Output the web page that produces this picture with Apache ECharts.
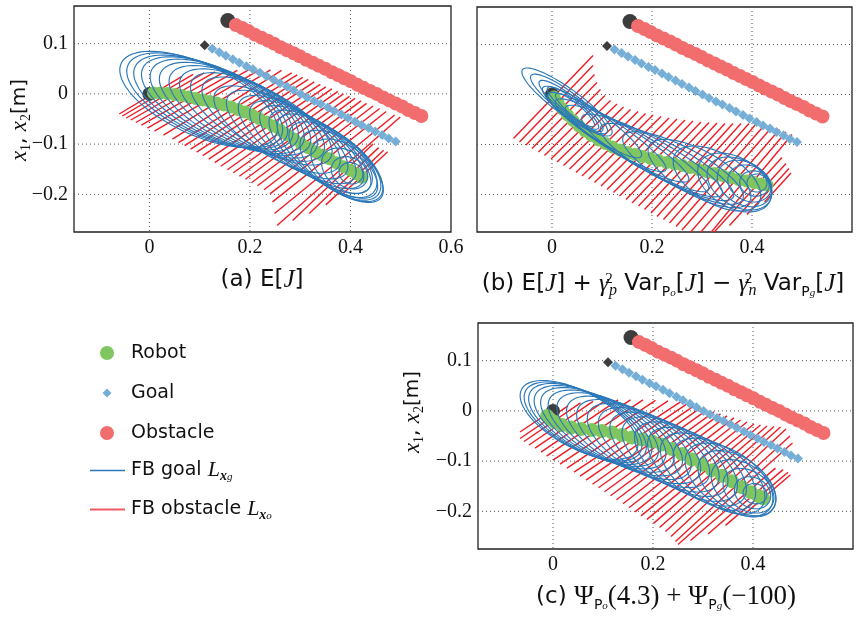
<!DOCTYPE html>
<html>
<head>
<meta charset="utf-8">
<script src="https://cdn.jsdelivr.net/npm/echarts@6/dist/echarts.min.js"></script>
<style>
  html, body { margin: 0; padding: 0; background: #fff; }
  #chart { width: 857px; height: 619px; }
</style>
</head>
<body>
<div id="chart"></div>
<script>
// tick labels
var xTicksA = [0, 0.2, 0.4, 0.6];
var xTicksBC = [0, 0.2, 0.4];
var yTicks = [-0.2, -0.1, 0, 0.1];

// goal / obstacle trajectories (same in the three panels)
var goalStart = [[0.110, 0.097]];
var goalPath = [[0.125,0.090],[0.139,0.083],[0.152,0.076],[0.166,0.069],[0.179,0.062],[0.193,0.055],[0.206,0.049],[0.220,0.042],[0.233,0.035],[0.247,0.028],[0.260,0.021],[0.274,0.014],[0.287,0.007],[0.301,0.000],[0.314,-0.007],[0.328,-0.014],[0.341,-0.020],[0.355,-0.027],[0.368,-0.034],[0.382,-0.041],[0.395,-0.048],[0.409,-0.055],[0.422,-0.062],[0.436,-0.068],[0.449,-0.075],[0.463,-0.082],[0.476,-0.089],[0.490,-0.095]];
var obstacleStart = [[0.156, 0.146]];
var obstaclePath = [[0.172,0.137],[0.185,0.131],[0.197,0.125],[0.210,0.118],[0.223,0.112],[0.236,0.106],[0.248,0.100],[0.261,0.093],[0.274,0.087],[0.287,0.081],[0.299,0.075],[0.312,0.068],[0.325,0.062],[0.337,0.056],[0.350,0.050],[0.363,0.043],[0.376,0.037],[0.388,0.031],[0.401,0.025],[0.414,0.018],[0.426,0.012],[0.439,0.006],[0.452,0.000],[0.465,-0.007],[0.477,-0.013],[0.490,-0.019],[0.503,-0.025],[0.515,-0.032],[0.528,-0.038],[0.541,-0.044]];
var robotStart = [[0, 0]];

// robot trajectories
var robotA = [[0.008,0.002],[0.022,0.002],[0.036,0.001],[0.050,-0.001],[0.064,-0.003],[0.078,-0.006],[0.092,-0.009],[0.106,-0.012],[0.120,-0.015],[0.134,-0.018],[0.148,-0.022],[0.162,-0.026],[0.176,-0.031],[0.190,-0.036],[0.204,-0.042],[0.218,-0.049],[0.232,-0.056],[0.246,-0.064],[0.260,-0.072],[0.274,-0.081],[0.288,-0.090],[0.302,-0.099],[0.316,-0.107],[0.330,-0.115],[0.344,-0.122],[0.358,-0.129],[0.372,-0.137],[0.386,-0.145],[0.400,-0.152],[0.412,-0.159],[0.423,-0.166]];
var robotB = [[0.004,-0.005],[0.012,-0.017],[0.021,-0.029],[0.031,-0.041],[0.042,-0.052],[0.054,-0.063],[0.066,-0.073],[0.079,-0.082],[0.093,-0.091],[0.107,-0.098],[0.121,-0.105],[0.136,-0.111],[0.151,-0.116],[0.166,-0.120],[0.181,-0.124],[0.197,-0.128],[0.213,-0.132],[0.229,-0.136],[0.245,-0.139],[0.261,-0.142],[0.277,-0.146],[0.293,-0.150],[0.309,-0.154],[0.325,-0.158],[0.341,-0.162],[0.357,-0.166],[0.373,-0.170],[0.389,-0.173],[0.404,-0.176],[0.418,-0.179],[0.430,-0.181]];
var robotC = [[-0.012,-0.010],[-0.006,-0.016],[0.004,-0.022],[0.018,-0.028],[0.036,-0.033],[0.056,-0.036],[0.078,-0.038],[0.098,-0.040],[0.118,-0.043],[0.138,-0.048],[0.158,-0.053],[0.178,-0.057],[0.198,-0.061],[0.218,-0.067],[0.238,-0.076],[0.258,-0.086],[0.278,-0.097],[0.298,-0.107],[0.318,-0.118],[0.338,-0.129],[0.358,-0.140],[0.378,-0.152],[0.396,-0.162],[0.412,-0.170],[0.420,-0.174]];

// FB goal ellipses: [cx, cy, semi-major, semi-minor, angle deg]
var goalEllA = [[0.098,-0.011,0.170,0.070,-25],[0.110,-0.013,0.168,0.069,-25],[0.122,-0.016,0.166,0.068,-25],[0.135,-0.019,0.164,0.067,-25.5],[0.149,-0.023,0.161,0.066,-26],[0.164,-0.028,0.158,0.064,-26.5],[0.180,-0.033,0.155,0.062,-27],[0.197,-0.039,0.152,0.060,-28],[0.215,-0.046,0.149,0.058,-29],[0.234,-0.054,0.146,0.056,-30],[0.254,-0.071,0.143,0.054,-31],[0.274,-0.081,0.140,0.053,-33],[0.294,-0.091,0.137,0.052,-34],[0.313,-0.101,0.134,0.051,-35],[0.330,-0.111,0.132,0.050,-36],[0.346,-0.120,0.130,0.050,-37],[0.360,-0.128,0.128,0.050,-38],[0.371,-0.135,0.112,0.050,-38],[0.380,-0.142,0.095,0.048,-38],[0.387,-0.148,0.076,0.044,-38],[0.393,-0.153,0.056,0.038,-36],[0.398,-0.157,0.038,0.030,-30],[0.401,-0.158,0.024,0.021,-20]];
var goalEllB = [[0.030,-0.015,0.110,0.026,-36],[0.034,-0.019,0.095,0.022,-37],[0.038,-0.023,0.080,0.018,-38],[0.042,-0.027,0.065,0.015,-39],[0.046,-0.031,0.050,0.012,-40],[0.080,-0.055,0.120,0.024,-35],[0.110,-0.075,0.140,0.026,-33],[0.140,-0.092,0.155,0.028,-31],[0.170,-0.108,0.165,0.030,-30],[0.200,-0.122,0.160,0.033,-29],[0.230,-0.135,0.150,0.036,-28],[0.262,-0.147,0.135,0.040,-28],[0.295,-0.158,0.115,0.045,-29],[0.330,-0.168,0.097,0.050,-30],[0.365,-0.176,0.080,0.050,-30],[0.375,-0.178,0.070,0.046,-30],[0.385,-0.178,0.058,0.042,-30],[0.395,-0.178,0.045,0.035,-25],[0.405,-0.178,0.030,0.025,-15],[0.410,-0.177,0.020,0.018,0]];
var goalEllC = [[0.052,-0.018,0.130,0.056,-28],[0.060,-0.021,0.130,0.056,-28],[0.069,-0.024,0.130,0.056,-28],[0.080,-0.028,0.130,0.056,-28],[0.093,-0.032,0.130,0.056,-28],[0.108,-0.037,0.130,0.056,-28],[0.125,-0.043,0.130,0.056,-28.5],[0.143,-0.050,0.129,0.056,-29],[0.162,-0.057,0.128,0.056,-29.5],[0.182,-0.065,0.127,0.056,-30],[0.202,-0.073,0.125,0.056,-30.5],[0.223,-0.082,0.123,0.056,-31],[0.244,-0.091,0.120,0.056,-32],[0.266,-0.101,0.117,0.056,-33],[0.288,-0.111,0.113,0.056,-34],[0.310,-0.121,0.109,0.056,-34.5],[0.332,-0.130,0.105,0.056,-35],[0.352,-0.137,0.100,0.055,-35],[0.368,-0.145,0.088,0.052,-35],[0.381,-0.153,0.072,0.046,-35],[0.391,-0.159,0.055,0.039,-33],[0.399,-0.163,0.038,0.030,-28],[0.404,-0.165,0.024,0.020,-15]];

// FB obstacle segments: [x0, y0, x1, y1]
var obsLinesA = [[-0.060,-0.040,0.065,0.035],[-0.054,-0.044,0.087,0.039],[-0.046,-0.048,0.109,0.042],[-0.037,-0.052,0.131,0.044],[-0.027,-0.057,0.153,0.046],[-0.016,-0.062,0.175,0.047],[-0.004,-0.068,0.197,0.048],[0.010,-0.074,0.219,0.048],[0.028,-0.082,0.241,0.048],[0.046,-0.090,0.263,0.047],
  [0.058,-0.097,0.283,0.042],[0.070,-0.103,0.294,0.038],[0.082,-0.110,0.305,0.033],[0.094,-0.116,0.316,0.029],[0.106,-0.123,0.328,0.024],[0.118,-0.130,0.340,0.019],[0.130,-0.137,0.351,0.014],[0.142,-0.144,0.363,0.010],[0.155,-0.151,0.375,0.005],[0.167,-0.157,0.386,0.000],[0.179,-0.164,0.398,-0.005],[0.191,-0.170,0.409,-0.009],[0.203,-0.177,0.421,-0.014],[0.215,-0.183,0.432,-0.019],[0.228,-0.191,0.445,-0.024],[0.240,-0.199,0.458,-0.029],
  [0.245,-0.215,0.471,-0.035],[0.249,-0.238,0.488,-0.042],[0.254,-0.262,0.499,-0.046],
  [0.285,-0.252,0.445,-0.100],[0.318,-0.238,0.456,-0.107],[0.351,-0.221,0.466,-0.112],[0.384,-0.200,0.474,-0.115]];
var obsLinesB = [[-0.077,-0.088,0.082,0.078],[-0.065,-0.095,0.082,0.058],[-0.052,-0.101,0.085,0.040],[-0.040,-0.108,0.090,0.024],[-0.027,-0.115,0.097,0.010],[-0.015,-0.122,0.106,-0.002],[-0.002,-0.129,0.117,-0.012],[0.010,-0.135,0.130,-0.019],[0.023,-0.142,0.143,-0.025],[0.035,-0.149,0.157,-0.030],[0.048,-0.156,0.172,-0.034],[0.060,-0.163,0.187,-0.038],[0.073,-0.169,0.202,-0.041],[0.085,-0.176,0.218,-0.044],[0.098,-0.183,0.234,-0.047],[0.110,-0.190,0.250,-0.049],[0.123,-0.196,0.266,-0.051],[0.135,-0.203,0.282,-0.053],[0.148,-0.210,0.298,-0.055],[0.160,-0.217,0.314,-0.056],[0.173,-0.223,0.330,-0.057],[0.185,-0.230,0.346,-0.058],[0.198,-0.237,0.362,-0.058],[0.210,-0.244,0.378,-0.058],[0.223,-0.250,0.394,-0.058],[0.235,-0.257,0.410,-0.057],[0.248,-0.264,0.426,-0.060],[0.260,-0.271,0.441,-0.064],[0.273,-0.280,0.455,-0.070],[0.285,-0.290,0.468,-0.075],[0.298,-0.300,0.480,-0.080],
  [0.320,-0.280,0.460,-0.126],[0.355,-0.262,0.468,-0.138],[0.390,-0.240,0.474,-0.148],[0.425,-0.215,0.478,-0.157]];
var obsLinesC = [[-0.066,-0.042,0.000,0.002],[-0.066,-0.055,0.030,0.010],[-0.058,-0.061,0.055,0.016],[-0.048,-0.068,0.080,0.019],[-0.036,-0.074,0.105,0.021],[-0.024,-0.082,0.130,0.022],[-0.013,-0.090,0.155,0.022],[0.000,-0.098,0.180,0.022],[0.014,-0.106,0.205,0.021],[0.028,-0.114,0.230,0.020],
  [0.042,-0.122,0.255,0.018],[0.054,-0.130,0.268,0.014],[0.066,-0.138,0.282,0.010],[0.079,-0.146,0.295,0.006],[0.091,-0.153,0.308,0.002],[0.103,-0.161,0.322,-0.002],[0.115,-0.169,0.335,-0.006],[0.127,-0.177,0.348,-0.010],[0.140,-0.185,0.362,-0.014],[0.152,-0.193,0.375,-0.018],[0.164,-0.201,0.388,-0.022],[0.176,-0.209,0.402,-0.026],[0.188,-0.216,0.415,-0.028],[0.201,-0.224,0.428,-0.030],[0.213,-0.232,0.442,-0.031],[0.225,-0.240,0.455,-0.032],
  [0.236,-0.250,0.466,-0.036],[0.245,-0.260,0.474,-0.050],[0.250,-0.266,0.479,-0.064],
  [0.275,-0.258,0.445,-0.114],[0.310,-0.245,0.460,-0.117],[0.345,-0.228,0.470,-0.122],[0.380,-0.208,0.475,-0.127]];

// ---- styles ----
var SANS = 'DejaVu Sans';
var SERIF = 'Liberation Serif';
var C_ROBOT = '#80c660', C_GOAL = '#75aed6', C_OBS = '#f26d6d', C_START = '#3d3d3d';
var C_ELL = '#2a78b9', C_FB = '#ee1c24';

var chart = echarts.init(document.getElementById('chart'));

function near(v, list) {
    for (var i = 0; i < list.length; i++) {
        if (Math.abs(v - list[i]) < 1e-6) return true;
    }
    return false;
}
function tickFmt(list) {
    return function (v) {
        if (!near(v, list)) return '';
        if (Math.abs(v) < 1e-9) return '0';
        return String(+v.toFixed(2)).replace('-', '\u2212');
    };
}

function gridLines(params, api) {
    var cs = params.coordSys;
    var dir = api.value(0), v = api.value(1);
    var style = { stroke: '#555', lineWidth: 1, lineDash: [1, 3] };
    if (dir === 0) {
        var x = api.coord([v, 0])[0];
        return { type: 'line', shape: { x1: x, y1: cs.y, x2: x, y2: cs.y + cs.height }, style: style };
    }
    var y = api.coord([0, v])[1];
    return { type: 'line', shape: { x1: cs.x, y1: y, x2: cs.x + cs.width, y2: y }, style: style };
}

function renderEllipse(params, api) {
    var cx = api.value(0), cy = api.value(1), a = api.value(2), b = api.value(3);
    var ang = api.value(4) * Math.PI / 180;
    var pts = [];
    for (var k = 0; k <= 90; k++) {
        var t = k / 90 * 2 * Math.PI;
        var ex = a * Math.cos(t), ey = b * Math.sin(t);
        pts.push(api.coord([cx + ex * Math.cos(ang) - ey * Math.sin(ang),
                            cy + ex * Math.sin(ang) + ey * Math.cos(ang)]));
    }
    return { type: 'polyline', shape: { points: pts }, style: { stroke: C_ELL, fill: null, lineWidth: 1.15 } };
}

function renderSegment(params, api) {
    var p0 = api.coord([api.value(0), api.value(1)]);
    var p1 = api.coord([api.value(2), api.value(3)]);
    return { type: 'line', shape: { x1: p0[0], y1: p0[1], x2: p1[0], y2: p1[1] },
             style: { stroke: C_FB, lineWidth: 1.4 } };
}

function panelSeries(i, robot, ells, segs, robotSize) {
    var gridData = xTicksBC.map(function (v) { return [0, v]; })
        .concat(yTicks.map(function (v) { return [1, v]; }));
    return [
        { type: 'custom', xAxisIndex: i, yAxisIndex: i, z: 1, silent: true, clip: true,
          data: gridData, renderItem: gridLines },
        { name: 'FB obstacle', type: 'custom', xAxisIndex: i, yAxisIndex: i, z: 2, clip: true,
          data: segs, renderItem: renderSegment, itemStyle: { color: C_FB } },
        { type: 'scatter', xAxisIndex: i, yAxisIndex: i, z: 3, data: obstacleStart,
          symbol: 'circle', symbolSize: 15, itemStyle: { color: C_START, opacity: 1 } },
        { name: 'Obstacle', type: 'scatter', xAxisIndex: i, yAxisIndex: i, z: 3, data: obstaclePath,
          symbol: 'circle', symbolSize: 14, itemStyle: { color: C_OBS, opacity: 1 } },
        { type: 'scatter', xAxisIndex: i, yAxisIndex: i, z: 3, data: goalStart,
          symbol: 'diamond', symbolSize: [10, 10], itemStyle: { color: C_START, opacity: 1 } },
        { name: 'Goal', type: 'scatter', xAxisIndex: i, yAxisIndex: i, z: 3, data: goalPath,
          symbol: 'diamond', symbolSize: [10, 10], itemStyle: { color: C_GOAL, opacity: 1 } },
        { type: 'scatter', xAxisIndex: i, yAxisIndex: i, z: 3, data: robotStart,
          symbol: 'circle', symbolSize: 14, itemStyle: { color: C_START, opacity: 1 } },
        { name: 'Robot', type: 'scatter', xAxisIndex: i, yAxisIndex: i, z: 4, data: robot,
          symbol: 'circle', symbolSize: robotSize, itemStyle: { color: C_ROBOT, opacity: 1 } },
        { name: 'FB goal', type: 'custom', xAxisIndex: i, yAxisIndex: i, z: 5, clip: true,
          data: ells, renderItem: renderEllipse, itemStyle: { color: C_ELL } }
    ];
}

function xAxisCfg(i, ticks) {
    return { gridIndex: i, type: 'value', min: -0.15, max: 0.6, interval: 0.05,
        axisLine: { show: false }, axisTick: { show: false }, splitLine: { show: false },
        axisLabel: { formatter: tickFmt(ticks), fontFamily: SERIF, fontSize: 20, color: '#111',
                     margin: 6, showMinLabel: true, showMaxLabel: true } };
}
function yAxisCfg(i, showLabels) {
    return { gridIndex: i, type: 'value', min: -0.275, max: 0.175, interval: 0.025,
        axisLine: { show: false }, axisTick: { show: false }, splitLine: { show: false },
        axisLabel: { show: showLabels, formatter: tickFmt(yTicks), fontFamily: SERIF, fontSize: 20,
                     color: '#111', margin: 6 } };
}

var boxStyle = { show: true, borderColor: '#222', borderWidth: 1.3, backgroundColor: 'transparent' };

var legRich = {
    L: { fontFamily: SERIF, fontStyle: 'italic', fontSize: 22, lineHeight: 24, color: '#111' },
    bx: { fontFamily: SERIF, fontStyle: 'italic', fontWeight: 'bold', fontSize: 14, lineHeight: 8,
          verticalAlign: 'bottom', color: '#111' },
    sg: { fontFamily: SERIF, fontStyle: 'italic', fontSize: 11, lineHeight: 25,
          verticalAlign: 'bottom', color: '#111' }
};
// left/width place the icon centre at x=107 and the text at x=131
var legendRows = [
    { name: 'Robot', top: 341, left: 100, icon: 'circle', w: 14, h: 14, pad: 12, color: C_ROBOT },
    { name: 'Goal', top: 381, left: 102.5, icon: 'diamond', w: 9, h: 9, pad: 14.5, color: C_GOAL },
    { name: 'Obstacle', top: 421, left: 100, icon: 'circle', w: 14, h: 14, pad: 12, color: C_OBS },
    { name: 'FB goal', top: 458, left: 90, icon: 'rect', w: 35, h: 1.5, pad: 1, color: C_ELL },
    { name: 'FB obstacle', top: 497, left: 90, icon: 'rect', w: 35, h: 2, pad: 1, color: '#ef5a62' }
];
var legends = legendRows.map(function (r) {
    return {
        left: r.left, top: r.top, padding: 0, itemWidth: r.w, itemHeight: r.h, selectedMode: false,
        data: [{ name: r.name, icon: r.icon, itemStyle: { color: r.color, borderWidth: 0 } }],
        formatter: function (name) {
            if (name === 'FB goal') return 'FB goal {L|L}{bx|x}{sg|g}';
            if (name === 'FB obstacle') return 'FB obstacle {L|L}{bx|x}{sg|o}';
            return name;
        },
        textStyle: { fontFamily: SANS, fontSize: 19, color: '#111', lineHeight: 24,
                     padding: [0, 0, 0, r.pad], rich: legRich }
    };
});

var capRich = {
    t: { fontFamily: SANS, fontSize: 23, lineHeight: 30, fill: '#111' },
    i: { fontFamily: SERIF, fontStyle: 'italic', fontSize: 25, lineHeight: 30, fill: '#111' },
    r: { fontFamily: SERIF, fontSize: 27, lineHeight: 30, fill: '#111' },
    sp: { fontFamily: SERIF, fontSize: 15, lineHeight: 12, padding: [0, 0, 10, 0], width: 0, fill: '#111' },
    sb: { fontFamily: SERIF, fontStyle: 'italic', fontSize: 16, lineHeight: 11, verticalAlign: 'bottom', fill: '#111' },
    sP: { fontFamily: SANS, fontSize: 14, lineHeight: 12, verticalAlign: 'bottom', fill: '#111' },
    ss: { fontFamily: SERIF, fontStyle: 'italic', fontSize: 11, lineHeight: 4, verticalAlign: 'bottom', fill: '#111' }
};
var nameRich = {
    i: { fontFamily: SERIF, fontStyle: 'italic', fontSize: 23, lineHeight: 26, fill: '#111' },
    s: { fontFamily: SERIF, fontSize: 14, lineHeight: 9, verticalAlign: 'bottom', fill: '#111' },
    t: { fontFamily: SANS, fontSize: 20, lineHeight: 26, fill: '#111' }
};
var yName = '{i|x}{s|1}{t|, }{i|x}{s|2}{t|[m]}';

function textEl(x, y, text, rich, rot) {
    return { type: 'text', x: x, y: y, rotation: rot || 0, silent: true,
             style: { text: text, rich: rich, align: 'center', verticalAlign: 'middle' } };
}

var option = {
    animation: false,
    backgroundColor: '#fff',
    grid: [
        Object.assign({ left: 74, top: 6, width: 377, height: 226 }, boxStyle),
        Object.assign({ left: 477, top: 7, width: 375, height: 225 }, boxStyle),
        Object.assign({ left: 478, top: 323, width: 375, height: 226 }, boxStyle)
    ],
    xAxis: [xAxisCfg(0, xTicksA), xAxisCfg(1, xTicksBC), xAxisCfg(2, xTicksBC)],
    yAxis: [yAxisCfg(0, true), yAxisCfg(1, false), yAxisCfg(2, true)],
    legend: legends,
    graphic: [
        textEl(20, 120, yName, nameRich, Math.PI / 2),
        textEl(413, 412, yName, nameRich, Math.PI / 2),
        textEl(262, 280, '{t|(a) E[}{i|J}{t|]}', capRich),
        textEl(663, 284, '{t|(b) E[}{i|J}{t|] + }{i|\u03b3}{sp|2}{sb|p}{t| Var}{sP|P}{ss|o}{t|[}{i|J}{t|] \u2212 }{i|\u03b3}{sp|2}{sb|n}{t| Var}{sP|P}{ss|g}{t|[}{i|J}{t|]}', capRich),
        textEl(666, 597, '{t|(c) }{r|\u03a8}{sP|P}{ss|o}{r|(4.3) + \u03a8}{sP|P}{ss|g}{r|(\u2212100)}', capRich)
    ],
    series: [].concat(
        panelSeries(0, robotA, goalEllA, obsLinesA, 13),
        panelSeries(1, robotB, goalEllB, obsLinesB, 13),
        panelSeries(2, robotC, goalEllC, obsLinesC, 14)
    )
};
chart.setOption(option);
</script>
</body>
</html>
